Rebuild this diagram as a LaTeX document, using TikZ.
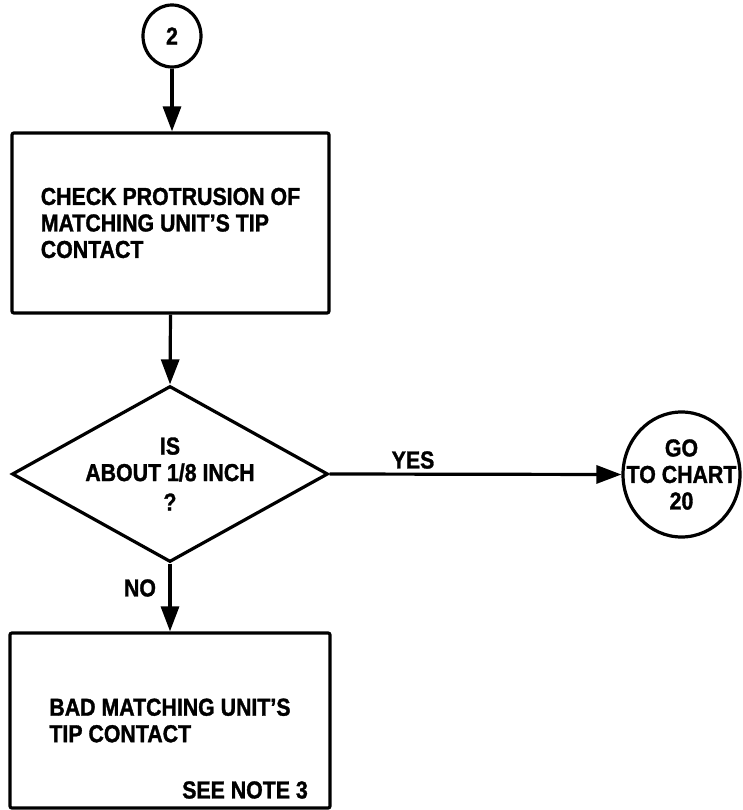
\documentclass[tikz,border=0pt]{standalone}
\usepackage{fontspec}
\setmainfont{Liberation Sans}[FakeStretch=0.87,FakeBold=1.3]
\usetikzlibrary{shapes.geometric,arrows.meta}
\begin{document}
\begin{tikzpicture}[x=1pt,y=-1pt,
  every node/.style={font=\fontsize{24.5}{26.5}\selectfont\bfseries},
  conn/.style={line width=3.2pt,-{Triangle[length=25pt,width=18pt]}},
  boxnode/.style={draw,line width=3.2pt,rounded corners=2pt,minimum height=180pt,align=left,inner sep=0pt},
  dianode/.style={draw,line width=3.2pt,shape=diamond,aspect=1.8,minimum width=316pt,minimum height=176pt,inner sep=0pt,align=center},
  ovalnode/.style={draw,line width=3.2pt,shape=ellipse,inner sep=0pt}
]
\useasboundingbox (0,0) rectangle (743,810);
\node[ovalnode,minimum width=58pt,minimum height=62pt] (c2) at (172,36) {2};
\node[boxnode,minimum width=317pt] (box1) at (170.5,223) {CHECK PROTRUSION OF\\MATCHING UNIT'S TIP\\CONTACT};
\node[dianode] (d) at (170,474) {IS\\ABOUT 1/8 INCH\\[3pt]?};
\node[ovalnode,minimum width=117pt,minimum height=125pt] (go) at (681.5,474.5) {};
\node[align=center,inner sep=0pt] (gotext) at (go.center) {GO\\TO CHART\\20};
\node[boxnode,minimum width=320pt,minimum height=175pt] (box2) at (170,720.5) {BAD MATCHING UNIT'S\\TIP CONTACT};
\node[anchor=east,inner sep=0pt] (note) at (308,790) {SEE NOTE 3};
\node[inner sep=0pt] (yes) at (413,460) {YES};
\node[inner sep=0pt] (no) at (140,588) {NO};
\draw[conn] (c2.south) -- (c2.south |- box1.north);
\draw[conn] (box1.south) -- (d.north);
\draw[conn] (d.east) -- (go.west);
\draw[conn] (d.south) -- (box2.north);
\end{tikzpicture}
\end{document}
